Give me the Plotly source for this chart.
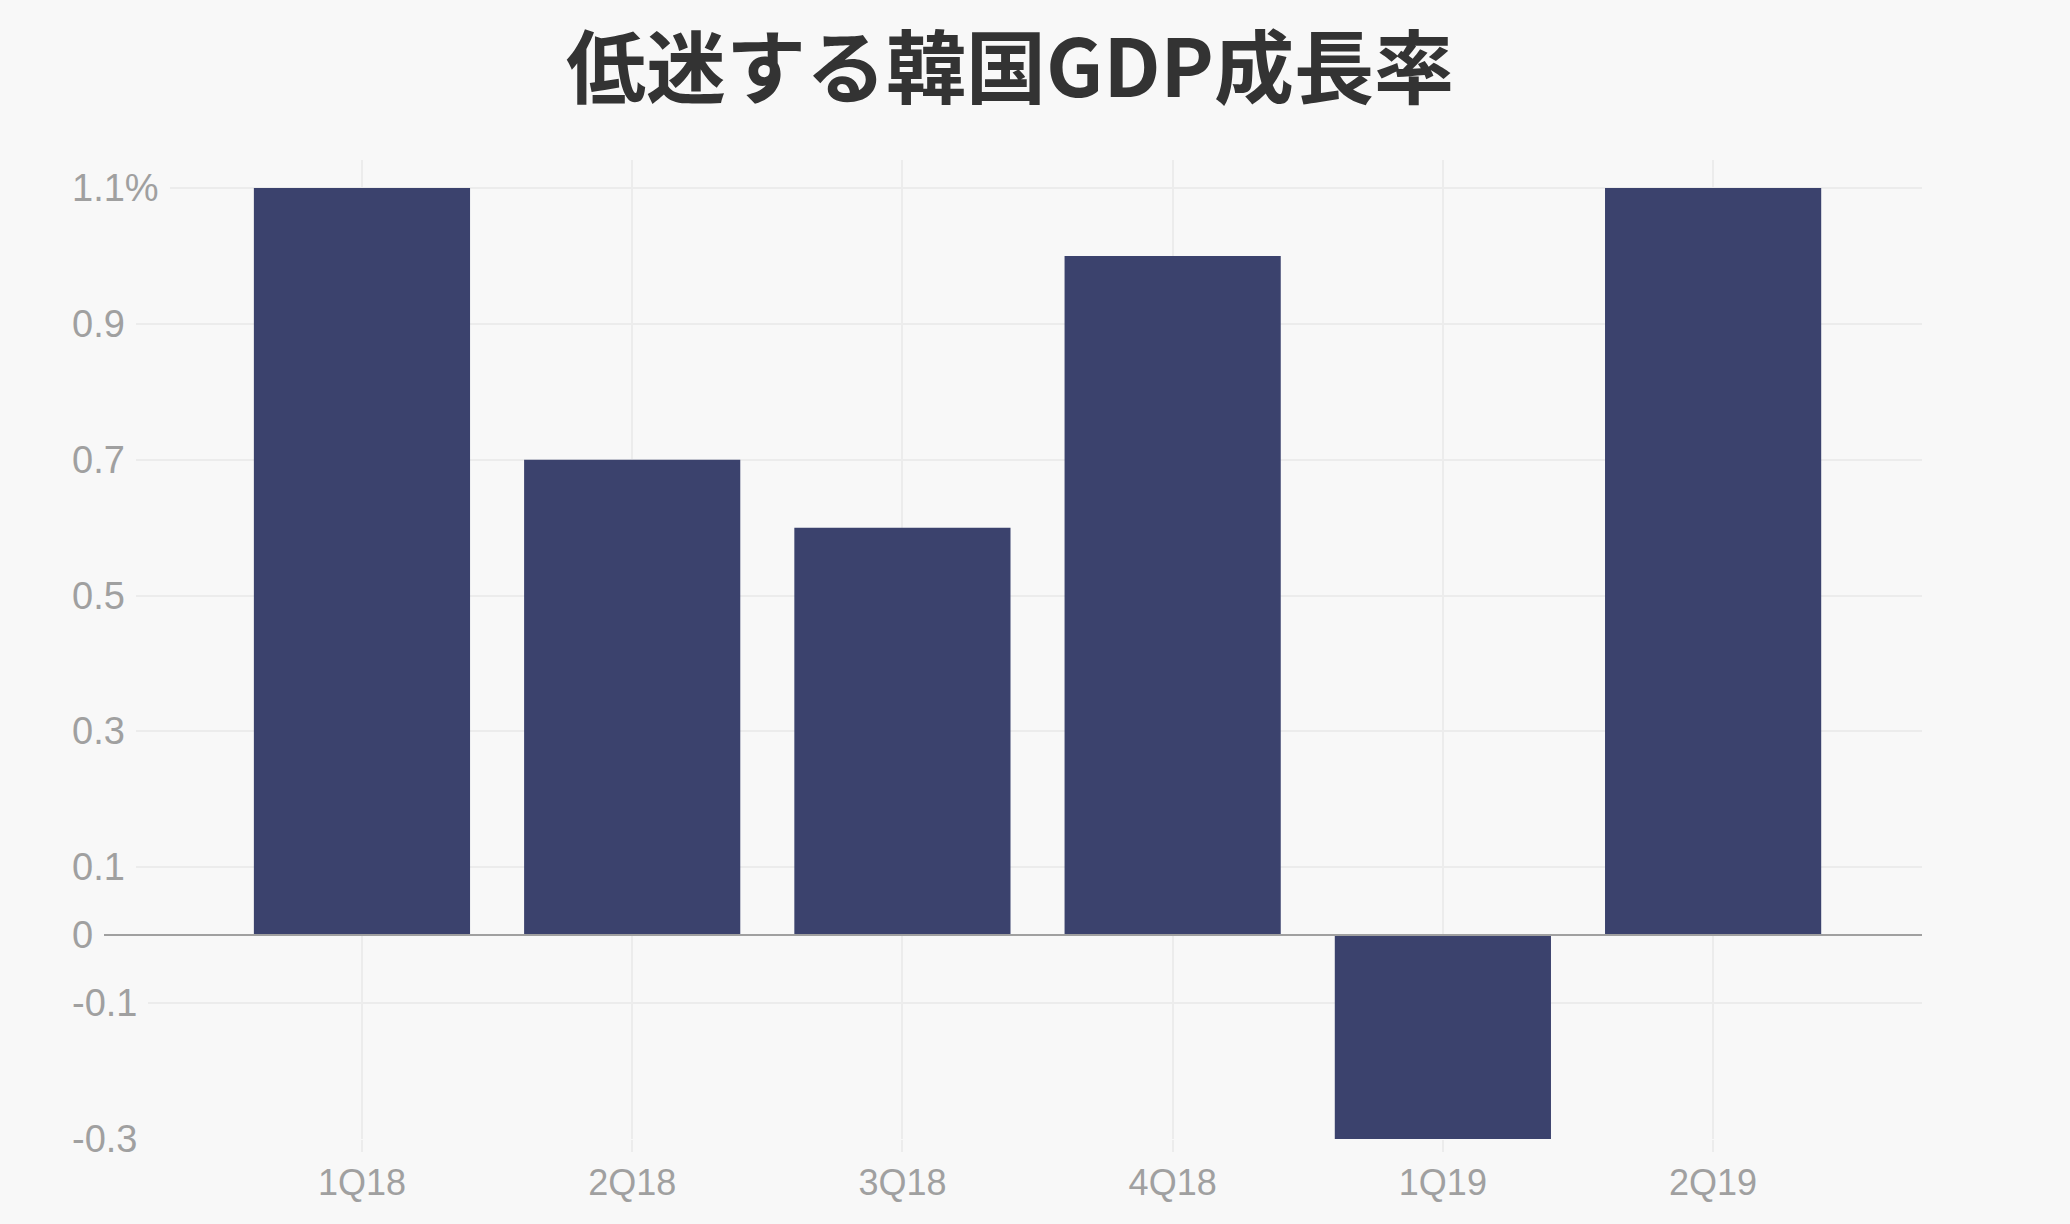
import plotly.graph_objects as go

categories = ["1Q18", "2Q18", "3Q18", "4Q18", "1Q19", "2Q19"]
growth = [1.1, 0.7, 0.6, 1.0, -0.3, 1.1]
y_tickvals = [-0.3, -0.1, 0, 0.1, 0.3, 0.5, 0.7, 0.9, 1.1]
y_ticktext = ["-0.3", "-0.1", "0", "0.1", "0.3", "0.5", "0.7", "0.9", "1.1%"]
title_text = "低迷する韓国GDP成長率"

BG = "#f8f8f8"
GRID = "#ececec"
LABEL = "#a0a0a0"
BAR = "#3b426d"

fig = go.Figure()
fig.add_trace(go.Bar(x=list(range(len(categories))), y=growth, marker=dict(color=BAR, line=dict(width=0)),
                     hoverinfo="skip"))

W, H = 2070, 1224
left, right, top, bottom = 72, 1922, 160, 1139

fig.update_layout(
    width=W, height=H,
    paper_bgcolor=BG, plot_bgcolor=BG,
    margin=dict(l=left, r=W - right, t=top, b=H - bottom, pad=0),
    bargap=0.2,
    showlegend=False,
    title=dict(text=f"<b>{title_text}</b>", x=1010 / W, xanchor="center", xref="container",
               y=1 - 69 / H, yanchor="middle", yref="container",
               font=dict(family="Noto Sans CJK JP", size=80, color="#333333")),
    font=dict(family="Liberation Sans", color=LABEL),
)

fig.update_xaxes(
    range=[-1.073, 5.773],
    tickvals=list(range(len(categories))), ticktext=categories,
    showgrid=True, gridcolor=GRID, gridwidth=2,
    ticks="outside", ticklen=12, tickcolor=GRID, tickwidth=2,
    tickfont=dict(family="Liberation Sans", size=36, color=LABEL),
    showline=False, zeroline=False,
)

fig.update_yaxes(
    range=[-0.3, 1.1414],
    tickvals=y_tickvals, showticklabels=False,
    showgrid=True, gridcolor=GRID, gridwidth=2,
    zeroline=True, zerolinecolor="#a0a0a0", zerolinewidth=2,
    showline=False, ticks="",
)
try:
    fig.update_yaxes(zerolinelayer="above traces")
except Exception:
    pass

pad = 11
for v, t in zip(y_tickvals, y_ticktext):
    fig.add_annotation(
        x=0, xref="paper", xanchor="left", xshift=-pad,
        y=v, yref="y", yanchor="middle",
        text=t, showarrow=False,
        bgcolor=BG, borderpad=pad, borderwidth=0,
        font=dict(family="Liberation Sans", size=38, color=LABEL),
    )

fig.write_html(
    "out.html",
    config={"displayModeBar": False},
    post_script="document.body.style.margin='0';document.body.style.overflow='hidden';"
                "document.body.style.background='#f8f8f8';",
)
